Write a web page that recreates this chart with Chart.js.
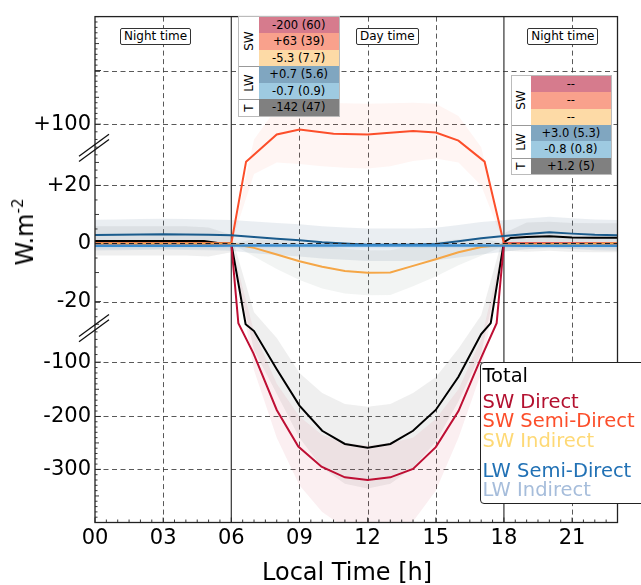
<!DOCTYPE html>
<html><head><meta charset="utf-8">
<script src="https://cdn.jsdelivr.net/npm/chart.js@4.4.1/dist/chart.umd.min.js"></script>
<style>
html,body{margin:0;padding:0;background:#fff;overflow:hidden;}
#wrap{position:relative;width:641px;height:585px;overflow:hidden;font-family:'DejaVu Sans',sans-serif;color:#000;}
#c{position:absolute;left:0;top:0;}
.tag{position:absolute;background:#fff;border:1px solid #333;border-radius:2px;font-size:12px;line-height:15px;padding:0 3px;white-space:nowrap;}
.tbl{position:absolute;background:#fff;outline:1px solid #bbb;}
.tlab{position:absolute;box-sizing:border-box;background:#fff;}
.tlab span{position:absolute;left:50%;top:50%;transform:translate(-50%,-50%) rotate(-90deg);font-size:12px;white-space:nowrap;}
.tcell{position:absolute;text-align:center;font-size:11.5px;white-space:nowrap;}
#legend{position:absolute;left:480px;top:361.5px;width:200px;height:140px;border:1.5px solid #222;border-radius:4px;background:#fff;}
#legend div{position:absolute;left:1.5px;font-size:19.5px;line-height:19.5px;white-space:nowrap;}
#ytitle{position:absolute;left:25px;top:232px;transform:translate(-50%,-50%) rotate(-90deg);font-size:24px;white-space:nowrap;}
#ytitle sup{font-size:15px;vertical-align:10px;line-height:0;}
#xtitle{position:absolute;left:262px;top:559.7px;font-size:24px;line-height:24px;white-space:nowrap;}
</style></head>
<body><div id="wrap">
<canvas id="c" width="641" height="585"></canvas>
<div class="tag" style="left:120px;top:28.3px">Night time</div>
<div class="tag" style="left:356px;top:28.3px">Day time</div>
<div class="tag" style="left:527.3px;top:28.3px">Night time</div>
<div class="tbl" id="tblDay" style="left:239.3px;top:16.7px"></div>
<div class="tbl" id="tblNight" style="left:511.7px;top:76px"></div>
<div id="legend"></div>
<div id="ytitle">W.m<sup>-2</sup></div>
<div id="xtitle">Local Time [h]</div>
</div>
<script>
// ---------------- data ----------------
const xTickValues = [0, 3, 6, 9, 12, 15, 18, 21];
const xTickLabels = ['00', '03', '06', '09', '12', '15', '18', '21'];
const yTickValues = [200, 100, 20, 0, -20, -100, -200, -300];
const yTickLabels = ['', '+100', '+20', '0', '-20', '-100', '-200', '-300'];
const dayNightBounds = [6, 18];
const breakMarkValues = [69, -55];

const totalHours = [0, 4.8, 5.4, 6, 6.63, 7, 8, 9, 10, 11, 12, 13, 14, 15, 16, 17, 17.42, 18, 18.3, 19, 20, 21, 22, 23];
const totalVals  = [0.9, 0.9, 0.2, 0, -50, -59, -113, -180, -227, -252, -259, -252, -227, -188, -127, -63, -48.5, 0.5, 1.9, 2.2, 2.5, 2.1, 2.0, 2.0];

const swDirectHours = [0, 6, 6.31, 6.97, 8, 8.95, 9.97, 11, 12, 13, 14, 15, 16, 17, 17.68, 18, 23];
const swDirectVals  = [0, 0, -48.5, -88, -188, -257, -295, -315, -320, -315, -299, -258, -190, -94, -48.5, 0, 0];

const swSemiHours = [0, 6, 6.65, 8, 9, 10.5, 12, 12.7, 14, 15, 16, 17.15, 18, 23];
const swSemiVals  = [0, 0, 51, 86.5, 93, 87.5, 86.5, 88, 91, 89, 78.5, 51, 0, 0];

const swIndHours = [0, 6, 7, 8, 9, 10, 11, 12, 13, 14, 15, 16, 17, 18, 23];
const swIndVals  = [0, 0, -1.5, -3.8, -6.1, -8, -9.5, -10.1, -10, -7.7, -5.4, -3, -1.2, -0.4, 0];

const hours24 = [0, 1, 2, 3, 4, 5, 6, 7, 8, 9, 10, 11, 12, 13, 14, 15, 16, 17, 18, 19, 20, 21, 22, 23];
const lwSemiVals = [2.9, 3.0, 3.1, 3.2, 3.1, 3.0, 2.8, 2.2, 1.6, 1.1, 0.4, 0.0, -0.4, -0.4, -0.4, -0.2, 0.8, 1.8, 2.6, 3.3, 3.9, 3.4, 3.0, 2.8];
const lwIndVals  = [-0.8, -0.8, -0.8, -0.8, -0.8, -0.8, -0.75, -0.7, -0.7, -0.7, -0.7, -0.7, -0.7, -0.7, -0.7, -0.7, -0.7, -0.7, -0.75, -0.8, -0.8, -0.8, -0.8, -0.8];

// spread bands
const dayHours = [6, 7, 8, 9, 10, 11, 12, 13, 14, 15, 16, 17, 18];
const swDirectHigh = [0, -60, -140, -200, -235, -250, -255, -250, -240, -205, -150, -70, 0];
const swDirectLow  = [0, -115, -240, -330, -380, -410, -420, -415, -398, -340, -240, -120, 0];
const swSemiHigh = [0, 80, 130, 140, 140, 139, 138, 139, 140, 138, 115, 70, 0];
const swSemiLow  = [0, 35, 50, 48, 45, 43, 42, 45, 52, 55, 50, 20, 0];
const swIndHigh = [0, 1.5, 1.2, 0.4, -0.5, -1.8, -2.4, -2.3, -0.7, 0.6, 1.5, 1.8, 0.1];
const swIndLow  = [0, -4.5, -8.8, -12.6, -15.5, -17.2, -17.8, -17.7, -14.7, -11.4, -7.5, -4.2, -0.9];
const totalHigh = [5.9, 5.9, 5.9, 5.9, 5.9, 5.5, 3, -34, -68, -120, -157, -177, -182, -177, -157, -128, -82, -38, 3.5, 7.2, 7.5, 7.1, 7, 7];
const totalLow  = [-4.1, -4.1, -4.1, -4.1, -4.1, -4.5, -3, -84, -158, -240, -297, -327, -336, -327, -297, -248, -172, -88, -2.5, -2.8, -2.5, -2.9, -3, -3];
const lwSemiHigh = [8.2, 8.3, 8.4, 8.5, 8.4, 8.3, 8.1, 7.6, 7.1, 6.6, 5.9, 5.5, 5.2, 5.2, 5.2, 5.4, 6.4, 7.4, 8.0, 8.6, 9.2, 8.7, 8.3, 8.1];
const lwSemiLow  = [-2.4, -2.3, -2.2, -2.1, -2.2, -2.3, -2.5, -3.4, -4.0, -4.5, -5.2, -5.6, -6.0, -6.0, -6.0, -5.8, -4.8, -3.8, -2.8, -2.0, -1.4, -1.9, -2.3, -2.5];
const lwIndHigh = [0.1, 0.1, 0.1, 0.1, 0.1, 0.1, 0.15, 0.2, 0.2, 0.2, 0.2, 0.2, 0.2, 0.2, 0.2, 0.2, 0.2, 0.2, 0.15, 0.1, 0.1, 0.1, 0.1, 0.1];
const lwIndLow  = [-1.7, -1.7, -1.7, -1.7, -1.7, -1.7, -1.65, -1.6, -1.6, -1.6, -1.6, -1.6, -1.6, -1.6, -1.6, -1.6, -1.6, -1.6, -1.65, -1.7, -1.7, -1.7, -1.7, -1.7];

// tables
const tableGroups = [['SW', 3], ['LW', 2], ['T', 1]];
const dayTableValues   = ['-200 (60)', '+63 (39)', '-5.3 (7.7)', '+0.7 (5.6)', '-0.7 (0.9)', '-142 (47)'];
const nightTableValues = ['--', '--', '--', '+3.0 (5.3)', '-0.8 (0.8)', '+1.2 (5)'];
const tableColors = ['#d67b8d', '#f9a18c', '#fddaa6', '#80a6c0', '#9ecae1', '#808080'];

// legend
const legendNames  = ['Total', 'SW Direct', 'SW Semi-Direct', 'SW Indirect', 'LW Semi-Direct', 'LW Indirect'];
const legendColors = ['#000000', '#b3102f', '#fc4e2a', '#fed976', '#2171b5', '#a6bddb'];
const legendBaselines = [383.3, 409, 428.3, 448.3, 478.3, 497.3];

// ---------------- y axis (broken / piecewise) ----------------
const yKnotValues = [300, 200, 100, 20, 0, -20, -100, -200, -300, -400];
const yKnotFrac   = [0, 0.1066, 0.2126, 0.3337, 0.4485, 0.5633, 0.6830, 0.7904, 0.8950, 1];
function yFrac(v) {
  const K = yKnotValues, F = yKnotFrac;
  if (v >= K[0]) return F[0] + (v - K[0]) * (F[1] - F[0]) / (K[1] - K[0]);
  for (let i = 0; i < K.length - 1; i++) {
    if (v >= K[i + 1]) return F[i] + (v - K[i]) * (F[i + 1] - F[i]) / (K[i + 1] - K[i]);
  }
  const n = K.length - 1;
  return F[n] + (v - K[n]) * (F[n] - F[n - 1]) / (K[n] - K[n - 1]);
}
function yValFromFrac(f) {
  const K = yKnotValues, F = yKnotFrac;
  for (let i = 0; i < K.length - 1; i++) {
    if (f <= F[i + 1]) return K[i] + (f - F[i]) * (K[i + 1] - K[i]) / (F[i + 1] - F[i]);
  }
  const n = K.length - 1;
  return K[n] + (f - F[n]) * (K[n] - K[n - 1]) / (F[n] - F[n - 1]);
}
const BaseLinear = Chart.LinearScale || Chart.registry.getScale('linear');
class BrokenLinearScale extends BaseLinear {
  determineDataLimits() { this.min = yKnotValues[yKnotValues.length - 1]; this.max = yKnotValues[0]; }
  buildTicks() { return yTickValues.map(v => ({ value: v })); }
  getPixelForValue(v) {
    if (v === null || v === undefined || isNaN(v)) return NaN;
    return this.top + yFrac(v) * (this.bottom - this.top);
  }
  getValueForPixel(p) { return yValFromFrac((p - this.top) / (this.bottom - this.top)); }
}
BrokenLinearScale.id = 'brokenLinear';
BrokenLinearScale.defaults = {};
Chart.register(BrokenLinearScale);

// ---------------- datasets ----------------
const pts = (xs, ys) => xs.map((x, i) => ({ x: x, y: ys[i] }));
function line(label, xs, ys, color, width) {
  return { label, data: pts(xs, ys), borderColor: color, borderWidth: width, pointRadius: 0, fill: false, tension: 0 };
}
function band(label, xs, hi, lo, color) {
  return [
    { label: label + ' hi', data: pts(xs, hi), borderWidth: 0, borderColor: 'rgba(0,0,0,0)', backgroundColor: color, pointRadius: 0, fill: '+1' },
    { label: label + ' lo', data: pts(xs, lo), borderWidth: 0, borderColor: 'rgba(0,0,0,0)', pointRadius: 0, fill: false }
  ];
}
const datasets = [
  line('LW Indirect', hours24, lwIndVals, '#3c8dcf', 2.4),
  line('LW Semi-Direct', hours24, lwSemiVals, '#1a5b8c', 2),
  line('SW Indirect', swIndHours, swIndVals, '#f5a646', 2),
  line('SW Semi-Direct', swSemiHours, swSemiVals, '#fc4e2a', 2),
  line('SW Direct', swDirectHours, swDirectVals, '#be0f34', 2),
  line('Total', totalHours, totalVals, '#000000', 2),
  ...band('LWI', hours24, lwIndHigh, lwIndLow, 'rgba(90,150,210,0.10)'),
  ...band('LWS', hours24, lwSemiHigh, lwSemiLow, 'rgba(60,100,135,0.11)'),
  ...band('SWI', dayHours, swIndHigh, swIndLow, 'rgba(150,165,158,0.12)'),
  ...band('SWS', dayHours, swSemiHigh, swSemiLow, 'rgba(252,78,42,0.055)'),
  ...band('SWD', dayHours, swDirectHigh, swDirectLow, 'rgba(190,15,52,0.065)'),
  ...band('TOT', hours24, totalHigh, totalLow, 'rgba(120,120,120,0.12)')
];

// ---------------- decorations ----------------
function seg(ctx, x1, y1, x2, y2) { ctx.beginPath(); ctx.moveTo(x1, y1); ctx.lineTo(x2, y2); ctx.stroke(); }
const decor = {
  id: 'decor',
  beforeDraw(chart) {
    const { ctx, chartArea: a, scales: { x, y } } = chart;
    ctx.save();
    ctx.lineWidth = 1; ctx.strokeStyle = 'rgba(60,60,60,0.85)'; ctx.setLineDash([5, 3.5]);
    xTickValues.forEach(v => {
      if (v === 0 || dayNightBounds.includes(v)) return;
      const px = Math.round(x.getPixelForValue(v)) + 0.5;
      seg(ctx, px, a.top, px, a.bottom);
    });
    yTickValues.forEach(v => {
      if (v === 0) return;
      const py = Math.round(y.getPixelForValue(v)) + 0.5;
      seg(ctx, a.left, py, a.right, py);
    });
    ctx.setLineDash([]);
    ctx.strokeStyle = '#333'; ctx.lineWidth = 1.2;
    dayNightBounds.forEach(v => { const px = x.getPixelForValue(v); seg(ctx, px, a.top, px, a.bottom); });
    ctx.restore();
  },
  afterDatasetsDraw(chart) {
    const { ctx, chartArea: a, scales: { y } } = chart;
    ctx.save();
    ctx.lineWidth = 1; ctx.strokeStyle = '#222'; ctx.setLineDash([5, 3.5]);
    const py = Math.round(y.getPixelForValue(0)) + 0.5;
    seg(ctx, a.left, py, a.right, py);
    ctx.restore();
  },
  afterDraw(chart) {
    const { ctx, chartArea: a, scales: { x, y } } = chart;
    ctx.save();
    ctx.strokeStyle = '#222'; ctx.lineWidth = 1.3;
    ctx.strokeRect(a.left, a.top, a.right - a.left, a.bottom - a.top);
    ctx.lineWidth = 0.9;
    for (let h = 0; h <= x.max + 1e-9; h += 0.5) {
      const px = x.getPixelForValue(h);
      const len = (h % 3 === 0) ? 5 : 3;
      seg(ctx, px, a.bottom, px, a.bottom - len);
    }
    for (let v = yKnotValues[yKnotValues.length - 1]; v <= yKnotValues[0]; v += 5) {
      if (Math.abs(v) >= 20 && v % 10 !== 0) continue;
      const py = y.getPixelForValue(v);
      let len = 2.5;
      if (yTickValues.includes(v)) len = 6; else if (v % 50 === 0 || (Math.abs(v) < 20 && v % 10 === 0)) len = 4;
      seg(ctx, a.left, py, a.left + len, py);
    }
    ctx.lineWidth = 1.3; ctx.strokeStyle = '#111';
    breakMarkValues.forEach(v => {
      const py = y.getPixelForValue(v);
      [-2.6, 2.6].forEach(o => seg(ctx, a.left - 16, py + 11 + o, a.left + 14, py - 11 + o));
    });
    ctx.restore();
  }
};

new Chart(document.getElementById('c'), {
  type: 'line',
  data: { datasets },
  options: {
    responsive: false, animation: false, devicePixelRatio: 1, events: [],
    layout: { padding: { top: 13, right: 23.5, left: 0, bottom: 0 } },
    plugins: { legend: { display: false }, tooltip: { enabled: false }, filler: { drawTime: 'beforeDatasetsDraw', propagate: false } },
    elements: { point: { radius: 0 }, line: { tension: 0 } },
    scales: {
      x: {
        type: 'linear', min: 0, max: 23,
        afterBuildTicks: s => { s.ticks = xTickValues.map(v => ({ value: v })); },
        afterFit: s => { s.height = 62.5; },
        grid: { display: false, drawTicks: false }, border: { display: false },
        ticks: { autoSkip: false, maxRotation: 0, padding: 3, color: '#000', font: { family: 'DejaVu Sans', size: 21 }, callback: (v, i) => xTickLabels[i] }
      },
      y: {
        type: 'brokenLinear', position: 'left',
        afterFit: s => { s.width = 95; },
        grid: { display: false, drawTicks: false }, border: { display: false },
        ticks: { autoSkip: false, padding: 4, color: '#000', font: { family: 'DejaVu Sans', size: 21 }, callback: (v, i) => yTickLabels[i] }
      }
    }
  },
  plugins: [decor]
});

// ---------------- tables & legend (text) ----------------
function buildTable(id, values, rowH, labW, valW) {
  const el = document.getElementById(id);
  el.style.width = (labW + valW) + 'px';
  el.style.height = (rowH * values.length) + 'px';
  let r = 0;
  tableGroups.forEach(([name, n], gi) => {
    const lab = document.createElement('div');
    lab.className = 'tlab';
    lab.style.cssText = 'left:0;top:' + (r * rowH) + 'px;width:' + labW + 'px;height:' + (n * rowH) + 'px;' + (gi ? 'border-top:1px solid #999;' : '');
    lab.innerHTML = '<span>' + name + '</span>';
    el.appendChild(lab);
    r += n;
  });
  values.forEach((v, i) => {
    const c = document.createElement('div');
    c.className = 'tcell';
    c.style.cssText = 'left:' + labW + 'px;top:' + (i * rowH) + 'px;width:' + valW + 'px;height:' + rowH + 'px;line-height:' + rowH + 'px;background:' + tableColors[i] + ';';
    c.textContent = v;
    el.appendChild(c);
  });
}
buildTable('tblDay', dayTableValues, 16.5, 19.4, 80);
buildTable('tblNight', nightTableValues, 16.33, 19, 80.3);

const lg = document.getElementById('legend');
legendNames.forEach((n, i) => {
  const d = document.createElement('div');
  d.textContent = n;
  d.style.color = legendColors[i];
  d.style.top = (legendBaselines[i] - 16.5 - 363) + 'px';
  lg.appendChild(d);
});
</script>
</body></html>
